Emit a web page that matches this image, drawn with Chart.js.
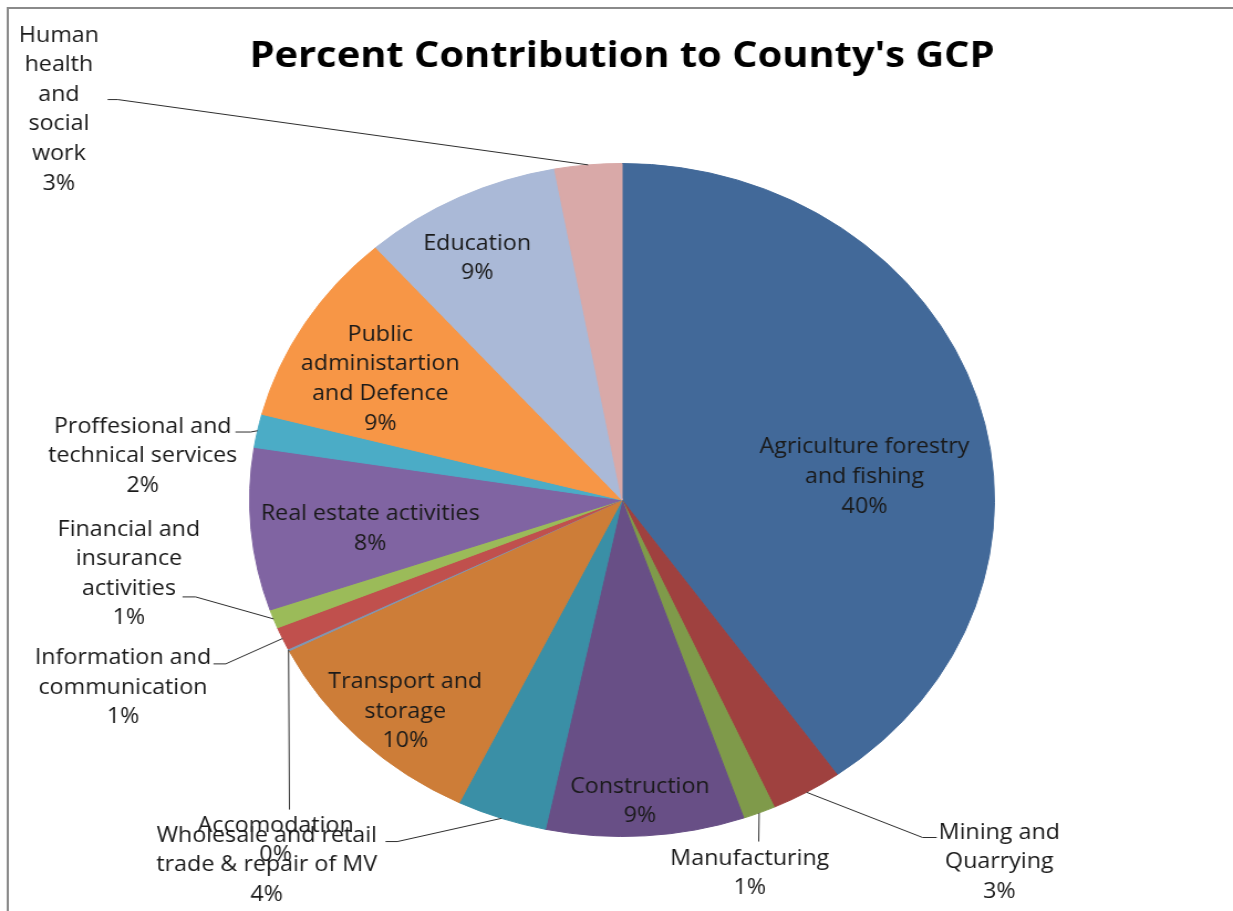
<!DOCTYPE html>
<html>
<head>
<meta charset="utf-8">
<title>Percent Contribution to County's GCP</title>
<script src="https://cdn.jsdelivr.net/npm/chart.js@4/dist/chart.umd.min.js"></script>
<style>
    html, body { margin: 0; padding: 0; background: #fff; overflow: hidden; }
    /* the chart is laid out narrow and stretched sideways, so the pie comes out oval */
    #wrap { width: 1114px; height: 911px; transform: scaleX(1.1068); transform-origin: 0 0; }
</style>
</head>
<body>
<div id="wrap"><canvas id="gcp"></canvas></div>
<script>
// sectors, as wrapped in the labels
const sectors = [
    ['Agriculture forestry', 'and fishing'],
    ['Mining and', 'Quarrying'],
    ['Manufacturing'],
    ['Construction'],
    ['Wholesale and retail', 'trade & repair of MV'],
    ['Transport and', 'storage'],
    ['Accomodation'],
    ['Information and', 'communication'],
    ['Financial and', 'insurance', 'activities'],
    ['Real estate activities'],
    ['Proffesional and', 'technical services'],
    ['Public', 'administartion', 'and Defence'],
    ['Education'],
    ['Human', 'health', 'and', 'social', 'work']
];

// share of GCP, percent
const shares = [40.2, 3.1, 1.4, 8.6, 3.9, 10.4, 0.1, 1.1, 0.9, 7.8, 1.6, 9.4, 8.6, 2.9];

const sliceColors = [
    '#426999', '#9F413F', '#7F9A4A', '#684F86', '#3A8FA6', '#CD7D38', '#8196B2',
    '#C0504D', '#9BBB59', '#8064A2', '#4BACC6', '#F79646', '#AAB9D7', '#D9A9A8'
];

// where each label sits, in units of the pie radius from its centre.
// leader = bend points of the line drawn from the slice edge to the text
const labelPlacement = [
    { text: [0.651, -0.074] },
    { text: [1.013, 1.071], leader: [[0.807, 1.003], [0.845, 1.003]] },
    { text: [0.343, 1.104], leader: [[0.367, 1.015]] },
    { text: [0.048, 0.890] },
    { text: [-0.954, 1.080], leader: [[-0.603, 1.015], [-0.635, 1.015]] },
    { text: [-0.582, 0.623] },
    { text: [-0.930, 1.006], leader: [[-0.893, 0.920]] },
    { text: [-1.340, 0.552], leader: [[-1.064, 0.487], [-1.097, 0.487]] },
    { text: [-1.324, 0.214], leader: [[-1.145, 0.288], [-1.180, 0.288]] },
    { text: [-0.676, 0.080] },
    { text: [-1.287, -0.136], leader: [[-0.997, -0.202], [-1.038, -0.202]] },
    { text: [-0.649, -0.365] },
    { text: [-0.389, -0.724] },
    { text: [-1.512, -1.166], leader: [[-1.354, -1.190], [-1.381, -1.190]] }
];

const LABEL_FONT = '21px "Open Sans"';
const LINE_H = 29.6;
const TEXT_NUDGE = 2;   // "middle" baseline sits a touch high in this font

// grey frame round the chart area (only top and left fall inside the page)
const framePlugin = {
    id: 'frame',
    beforeDraw(chart) {
        const ctx = chart.ctx;
        ctx.save();
        ctx.fillStyle = '#fff';
        ctx.fillRect(0, 0, chart.width, chart.height);
        ctx.strokeStyle = '#8a8a8a';
        ctx.lineWidth = 2;
        ctx.beginPath();
        ctx.moveTo(7, chart.height + 5);
        ctx.lineTo(7, 8);
        ctx.lineTo(chart.width + 5, 8);
        ctx.stroke();
        ctx.restore();
    }
};

// category name + rounded percent on every slice, with leader lines for the small ones
const sliceLabels = {
    id: 'sliceLabels',
    afterDatasetsDraw(chart) {
        const ctx = chart.ctx;
        const meta = chart.getDatasetMeta(0);
        const total = shares.reduce((a, b) => a + b, 0);
        ctx.save();
        meta.data.forEach((arc, i) => {
            const p = arc.getProps(['x', 'y', 'startAngle', 'endAngle', 'outerRadius'], true);
            const r = p.outerRadius;
            const place = labelPlacement[i];

            if (place.leader) {
                const mid = (p.startAngle + p.endAngle) / 2;
                ctx.strokeStyle = '#2e2e2e';
                ctx.lineWidth = 1;
                ctx.beginPath();
                ctx.moveTo(p.x + Math.cos(mid) * r, p.y + Math.sin(mid) * r);
                place.leader.forEach(pt => ctx.lineTo(p.x + pt[0] * r, p.y + pt[1] * r));
                ctx.stroke();
            }

            const lines = sectors[i].concat(Math.round(shares[i] / total * 100) + '%');
            const cx = p.x + place.text[0] * r;
            const cy = p.y + place.text[1] * r + TEXT_NUDGE;
            ctx.font = LABEL_FONT;
            ctx.fillStyle = '#1a1a1a';
            ctx.textAlign = 'center';
            ctx.textBaseline = 'middle';
            lines.forEach((t, k) => {
                ctx.fillText(t, cx, cy + (k - (lines.length - 1) / 2) * LINE_H);
            });
        });
        ctx.restore();
    }
};

new Chart(document.getElementById('gcp'), {
    type: 'pie',
    data: {
        labels: sectors,
        datasets: [{
            data: shares,
            backgroundColor: sliceColors,
            borderColor: sliceColors,
            borderWidth: 1,
            hoverOffset: 0
        }]
    },
    options: {
        responsive: true,
        maintainAspectRatio: false,
        animation: false,
        layout: { padding: { left: 10, right: 0, top: 0, bottom: 74 } },
        plugins: {
            legend: { display: false },
            tooltip: { enabled: false },
            title: {
                display: true,
                text: "Percent Contribution to County's GCP",
                color: '#000',
                font: { family: '"Open Sans"', size: 36, weight: 'bold', lineHeight: 1.2 },
                padding: { top: 35, bottom: 84.8 }
            }
        }
    },
    plugins: [framePlugin, sliceLabels]
});
</script>
</body>
</html>
